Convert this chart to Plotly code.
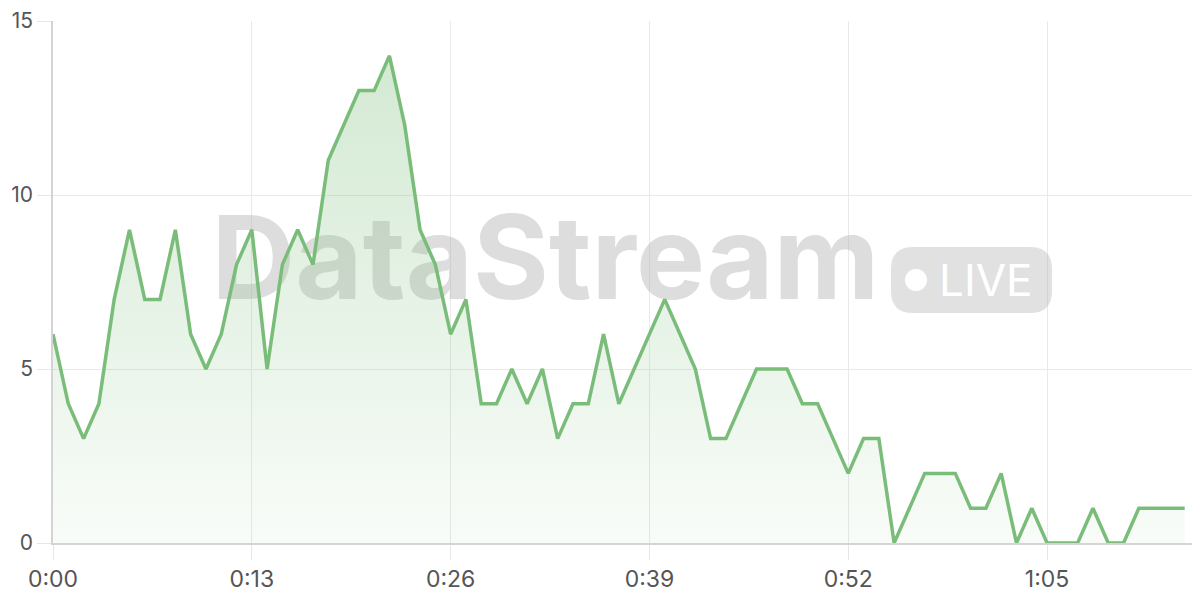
import plotly.graph_objects as go

# one reading per second
seconds = list(range(75))
values = [6, 4, 3, 4, 7, 9, 7, 7, 9, 6,
          5, 6, 8, 9, 5, 8, 9, 8, 11, 12,
          13, 13, 14, 12, 9, 8, 6, 7, 4, 4,
          5, 4, 5, 3, 4, 4, 6, 4, 5, 6,
          7, 6, 5, 3, 3, 4, 5, 5, 5, 4,
          4, 3, 2, 3, 3, 0, 1, 2, 2, 2,
          1, 1, 2, 0, 1, 0, 0, 0, 1, 0,
          0, 1, 1, 1, 1]
tick_vals = [0, 13, 26, 39, 52, 65]
tick_text = ["0:00", "0:13", "0:26", "0:39", "0:52", "1:05"]

W, H = 1200, 600
OFF = 8  # page body margin in the browser
# plot area in page pixels
X0, X1, Y0, Y1 = 53, 1200, 21, 543
pw, ph = X1 - X0, Y1 - Y0


def px(x, y):
    # page pixel position -> paper coords
    return (x - X0) / pw, (Y1 - y) / ph


def rounded_rect(x0, y0, x1, y1, r):
    pts = [
        ("M", [(x0 + r, y0)]), ("L", [(x1 - r, y0)]), ("Q", [(x1, y0), (x1, y0 + r)]),
        ("L", [(x1, y1 - r)]), ("Q", [(x1, y1), (x1 - r, y1)]),
        ("L", [(x0 + r, y1)]), ("Q", [(x0, y1), (x0, y1 - r)]),
        ("L", [(x0, y0 + r)]), ("Q", [(x0, y0), (x0 + r, y0)]),
    ]
    out = ""
    for cmd, ps in pts:
        out += cmd + " " + " ".join("%.5f,%.5f" % px(a, b) for a, b in ps) + " "
    return out + "Z"


green = "rgb(122,189,122)"

fig = go.Figure()

# watermark text sits under the line
fig.add_trace(go.Scatter(
    x=[32.2], y=[7.85], mode="text", text=["<b>DataStream</b>"],
    textfont=dict(family="Inter", size=116, color="rgba(175,175,175,0.42)"),
    hoverinfo="skip", showlegend=False,
))

fig.add_trace(go.Scatter(
    x=seconds, y=values, mode="lines",
    line=dict(color=green, width=3.5),
    fill="tozeroy",
    fillgradient=dict(type="vertical", colorscale=[
        [0, "rgba(122,189,122,0.05)"], [1, "rgba(122,189,122,0.33)"]]),
    showlegend=False,
))

# LIVE badge
fig.add_shape(type="path", xref="paper", yref="paper",
              path=rounded_rect(891, 247, 1052, 313, 22),
              fillcolor="rgba(175,175,175,0.38)", line=dict(width=0))
cx0, cy0 = px(905, 291)
cx1, cy1 = px(927, 269)
fig.add_shape(type="circle", xref="paper", yref="paper",
              x0=cx0, y0=cy0, x1=cx1, y1=cy1,
              fillcolor="white", line=dict(width=0))
lx, ly = px(986, 280)
fig.add_annotation(x=lx, y=ly, xref="paper", yref="paper", text="LIVE",
                   xanchor="center", yanchor="middle",
                   showarrow=False, font=dict(family="Inter", size=44, color="white"))

axis_style = dict(
    gridcolor="#e9e9e9", gridwidth=1,
    showline=True, linecolor="#d4d4d4", linewidth=1.5,
    ticks="outside", tickcolor="#e6e6e6",
    zeroline=False, fixedrange=True, automargin=False,
    ticklabeloverflow="allow",
)

fig.update_xaxes(range=[0, 75], tickvals=tick_vals, ticktext=tick_text, ticklen=15,
                 tickfont=dict(family="Inter", size=23, color="#555555"), **axis_style)
fig.update_yaxes(range=[0, 15], tickvals=[0, 5, 10, 15], ticklen=14,
                 tickfont=dict(family="Inter", size=21, color="#555555"), **axis_style)

fig.update_layout(
    width=W, height=H,
    margin=dict(l=X0 - OFF, r=W + OFF - X1, t=Y0 - OFF, b=H + OFF - Y1),
    paper_bgcolor="white", plot_bgcolor="white",
    showlegend=False,
)

fig.write_html("out.html")
